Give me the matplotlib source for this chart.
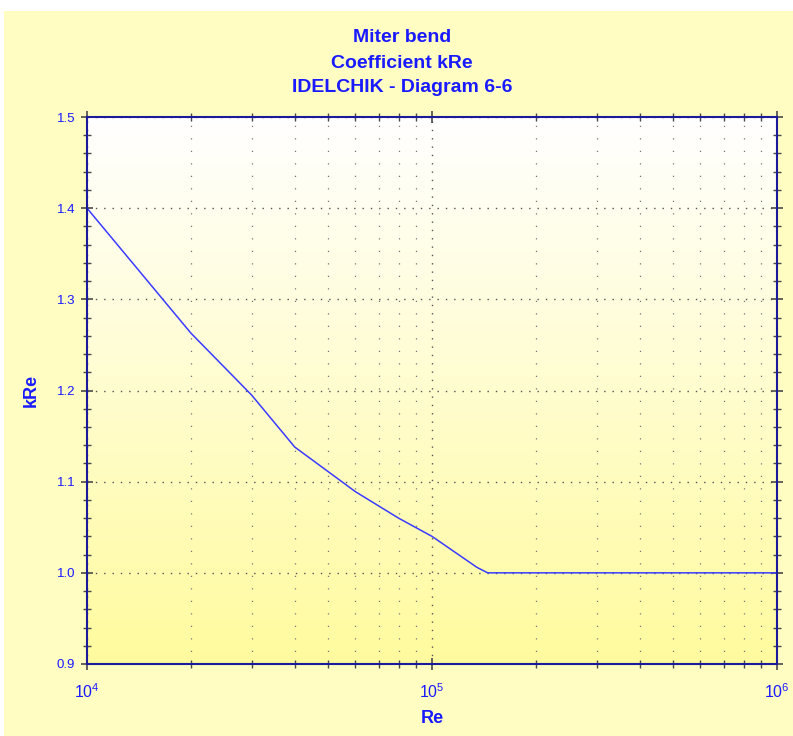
import numpy as np
import matplotlib
matplotlib.use("Agg")
from matplotlib import pyplot as plt
from matplotlib.ticker import FixedLocator, LogLocator, FuncFormatter, MultipleLocator
from matplotlib.patches import Rectangle

# Idelchik diagram 6-6, coefficient kRe vs Re
re_values = [1e4, 2e4, 3e4, 4e4, 6e4, 8e4, 1e5, 1.35e5, 1.45e5, 1e6]
kre_values = [1.40, 1.263, 1.195, 1.138, 1.089, 1.06, 1.04, 1.006, 1.00, 1.00]

title_lines = ["Miter bend", "Coefficient kRe", "IDELCHIK - Diagram 6-6"]
x_label = "Re"
y_label = "kRe"
y_ticks = [0.9, 1.0, 1.1, 1.2, 1.3, 1.4, 1.5]

plt.rcParams.update({
    "font.family": ["Liberation Sans", "DejaVu Sans"],
    "mathtext.fontset": "custom",
    "mathtext.rm": "Liberation Sans",
})

blue = "#1a1aff"
spine_blue = "#1a1a9a"
tick_gray = "#4a4a4a"

fig = plt.figure(figsize=(7.93, 7.36), dpi=100)
fig.set_facecolor("white")

# yellow panel behind everything
fig.patches.append(Rectangle((4 / 793, 0), 1, 1 - 11 / 736, transform=fig.transFigure,
                             facecolor="#fffdc2", edgecolor="none", zorder=-10))

ax = fig.add_axes([87 / 793, 1 - 664 / 736, 690 / 793, 547 / 736])
ax.set_facecolor("none")
ax.set_xscale("log")
ax.set_xlim(1e4, 1e6)
ax.set_ylim(0.9, 1.5)

# white-to-yellow gradient in plot area
grad = np.linspace(0, 1, 256).reshape(-1, 1)
top = np.array([1.0, 1.0, 1.0])
bottom = np.array([1.0, 0.984, 0.62])
img = top + (bottom - top) * grad[..., None]
ax.imshow(img, extent=[0, 1, 0, 1], transform=ax.transAxes, aspect="auto",
          zorder=0, origin="upper")

ax.plot(re_values, kre_values, color="#3b3bff", lw=1.1, zorder=3)

# ticks
ax.yaxis.set_major_locator(FixedLocator(y_ticks))
ax.yaxis.set_minor_locator(MultipleLocator(0.02))
ax.xaxis.set_major_locator(LogLocator(base=10))
ax.xaxis.set_minor_locator(LogLocator(base=10, subs=np.arange(2, 10)))
ax.xaxis.set_major_formatter(FuncFormatter(lambda v, p: r"$\mathregular{10^{%d}}$" % round(np.log10(v))))
ax.yaxis.set_major_formatter(FuncFormatter(lambda v, p: "%.1f" % v))

ax.tick_params(which="major", direction="inout", length=9, width=1.2, color=tick_gray,
               labelcolor=blue, labelsize=9.5, top=True, right=True)
ax.tick_params(which="minor", direction="inout", length=6, width=1.0, color=tick_gray,
               top=True, right=True)
ax.tick_params(axis="x", which="major", pad=9, labelsize=11.5)
ax.tick_params(axis="y", which="major", pad=4)

for s in ax.spines.values():
    s.set_color(spine_blue)
    s.set_linewidth(1.5)
    s.set_zorder(4)

ax.grid(True, which="major", color="#555555", linestyle=(0, (1, 5)), lw=1.0, zorder=1)
ax.grid(True, which="minor", axis="x", color="#777777", linestyle=(0, (1, 9)), lw=0.9, zorder=1)

ax.set_xlabel(x_label, color=blue, fontsize=13, fontweight="bold", labelpad=6)
ax.set_ylabel(y_label, color=blue, fontsize=13, fontweight="bold", labelpad=12)

for i, line in enumerate(title_lines):
    fig.text(402 / 793, 1 - (38 + 25 * i) / 736, line, ha="center", va="center",
             color=blue, fontsize=14, fontweight="bold")

fig.savefig("out.png", dpi=100, facecolor=fig.get_facecolor())
